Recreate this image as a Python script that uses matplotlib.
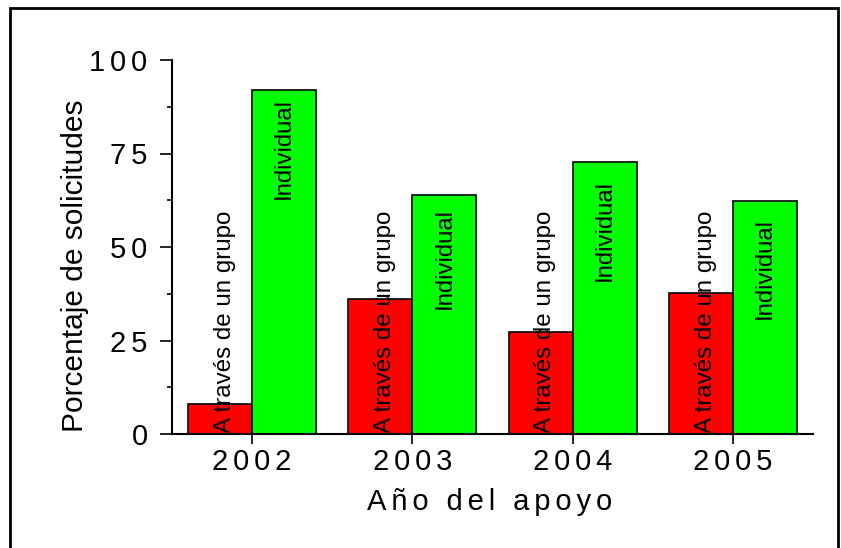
import numpy as np
import matplotlib.pyplot as plt
from matplotlib.patches import Rectangle

# data
years = [2002, 2003, 2004, 2005]
year_labels = ['2002', '2003', '2004', '2005']
grupo = [8.0, 36.0, 27.3, 37.8]
individual = [92.0, 64.0, 72.7, 62.2]
y_ticks = [0, 25, 50, 75, 100]
y_minor = [12.5, 37.5, 62.5, 87.5]

# how far below each green bar top its label starts (data units)
ind_label_drop = [2.1, 3.7, 4.8, 4.5]


def spaced(s):
    # widen letter spacing with six-per-em spaces
    return '\u2006'.join(s)


plt.rcParams['font.family'] = ['Liberation Sans', 'DejaVu Sans']

W, H = 841, 548
fig = plt.figure(figsize=(W / 100, H / 100), dpi=100)
ax = fig.add_axes([172 / W, 114 / H, 641 / W, 374 / H])

x = np.array(years)
w = 0.4
ax.bar(x - w / 2, grupo, w, color='#ff0000', edgecolor='black', linewidth=1.2)
ax.bar(x + w / 2, individual, w, color='#00ff00', edgecolor='black', linewidth=1.2)

for xi, v in zip(x, grupo):
    ax.text(xi - w / 2 + 0.03, 0.3, 'A través de un grupo', rotation=90,
            ha='center', va='bottom', fontsize=17.4)
for xi, v, d in zip(x, individual, ind_label_drop):
    ax.text(xi + w / 2, v - d, 'Individual', rotation=90,
            ha='center', va='top', fontsize=17.2)

ax.set_xlim(2001.5, 2005.5)
ax.set_ylim(0, 100)
ax.spines['top'].set_visible(False)
ax.spines['right'].set_visible(False)
for s in ['left', 'bottom']:
    ax.spines[s].set_linewidth(1.5)

ax.set_xticks(years, [spaced(l) for l in year_labels])
ax.set_yticks(y_ticks, [spaced(str(t)) for t in y_ticks])
ax.set_yticks(y_minor, minor=True)
ax.tick_params(axis='x', direction='out', length=7.2, width=1.2, pad=3, labelsize=21)
ax.tick_params(axis='y', which='major', direction='out', length=8.6, width=1.2, pad=9, labelsize=21)
ax.tick_params(axis='y', which='minor', direction='out', length=3.6, width=1.2)

fig.text(75 / W, 1 - 266 / H, 'Porcentaje de solicitudes', rotation=90,
         ha='center', va='center', fontsize=21.5)
fig.text(490 / W, 1 - 510 / H, spaced('Año del apoyo'),
         ha='center', va='baseline', fontsize=21)

# outer frame
fig.add_artist(Rectangle((10 / W, -0.02), 828 / W, 1 - 8 / H + 0.02,
                         transform=fig.transFigure, fill=False,
                         edgecolor='black', linewidth=2))

fig.savefig('out.png', dpi=100)
